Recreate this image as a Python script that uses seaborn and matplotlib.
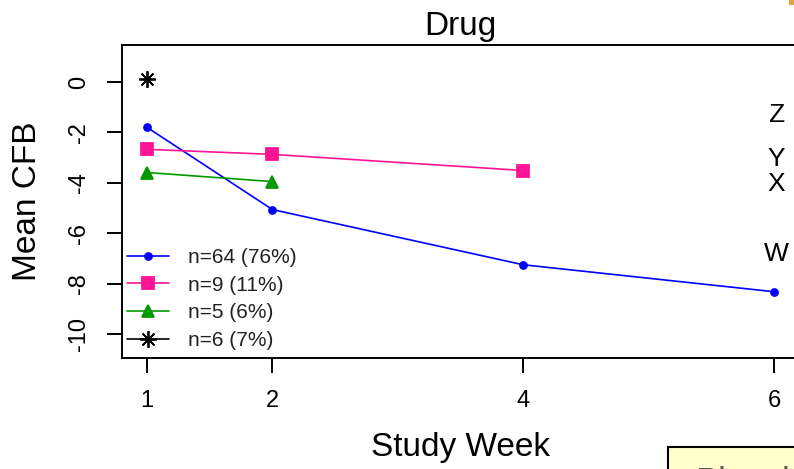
import matplotlib
matplotlib.use("Agg")
import matplotlib.pyplot as plt
from matplotlib.patches import Rectangle
import seaborn as sns
import pandas as pd

# ---- data ----
groups = ["n=64 (76%)", "n=9 (11%)", "n=5 (6%)", "n=6 (7%)"]
weeks_64 = [1, 2, 4, 6]
cfb_64 = [-1.80, -5.06, -7.25, -8.32]
weeks_9 = [1, 2, 4]
cfb_9 = [-2.67, -2.87, -3.51]
weeks_5 = [1, 2]
cfb_5 = [-3.59, -3.95]
weeks_6 = [1]
cfb_6 = [0.12]

side_letters = ["Z", "Y", "X", "W"]
side_letter_y = [-1.29, -3.06, -4.05, -6.83]

x_ticks = [1, 2, 4, 6]
y_ticks = [0, -2, -4, -6, -8, -10]

colors = ["#0000FF", "#FF1493", "#009A00", "#000000"]

sns.set_theme(style="white")
plt.rcParams["font.family"] = ["Liberation Sans", "DejaVu Sans"]
plt.rcParams["text.color"] = "black"
plt.rcParams["axes.labelcolor"] = "black"

fig = plt.figure(figsize=(7.94, 4.69), dpi=100)
ax = fig.add_axes([122 / 794, 111 / 469, (799 - 122) / 794, 313 / 469])

series = [(weeks_64, cfb_64), (weeks_9, cfb_9), (weeks_5, cfb_5), (weeks_6, cfb_6)]
markers = ["o", "s", "^", (8, 2, 0)]
msizes = [5, 9, 9, 12]

handles = []
for (wk, val), g, c, m, ms in zip(series, groups, colors, markers, msizes):
    df = pd.DataFrame({"week": wk, "cfb": val})
    sns.lineplot(data=df, x="week", y="cfb", ax=ax, color=c, marker=m,
                 markersize=ms, markeredgecolor=c, markeredgewidth=1.3,
                 linewidth=1.2, label=g, legend=False)
    handles.append(ax.lines[-1])

for lab, yv in zip(side_letters, side_letter_y):
    ax.text(6.02, yv, lab, ha="center", va="center", fontsize=19, color="black")

ax.set_xlim(0.8, 6.2)
ax.set_ylim(-10.95, 1.47)
ax.set_xticks(x_ticks)
ax.set_xticklabels([str(t) for t in x_ticks])
ax.set_yticks(y_ticks)
ax.set_yticklabels([str(t) for t in y_ticks], rotation=90, va="center")

for sp in ax.spines.values():
    sp.set_visible(True)
    sp.set_color("black")
    sp.set_linewidth(1.4)

ax.tick_params(axis="both", direction="out", length=11, width=1.4,
               color="black", labelsize=17, labelcolor="black")
ax.tick_params(axis="x", pad=12, bottom=True)
ax.tick_params(axis="y", pad=12, left=True)

ax.set_title("Drug", fontsize=24, y=(358 - 35) / 313, pad=0, va="baseline",
             color="black")
ax.set_xlabel("Study Week", fontsize=24, va="center", color="black")
ax.xaxis.set_label_coords(0.5, (358 - 447) / 313)
ax.set_ylabel("Mean CFB", fontsize=24, va="center", color="black")
ax.yaxis.set_label_coords((28 - 122) / 677, 0.5)

leg = ax.legend(handles=handles, labels=groups, loc="lower left",
                bbox_to_anchor=(5 / 677, 0.025), borderaxespad=0, borderpad=0,
                frameon=False, fontsize=15, handlelength=2.0,
                handletextpad=0.95, labelspacing=0.42)
for t in leg.get_texts():
    t.set_color("#222222")

# pale yellow box partially visible at bottom right
fig.patches.append(Rectangle((668 / 794, -0.05), 0.2, (469 - 447) / 469 + 0.05,
                             transform=fig.transFigure, facecolor="#FFFFCC",
                             edgecolor="black", linewidth=1.5, zorder=5))
fig.text(695 / 794, (469 - 466) / 469, "Placebo", fontsize=25, color="#555555",
         ha="left", va="top", zorder=6)
# small orange mark at top right corner
fig.patches.append(Rectangle((789 / 794, 1 - 5 / 469), 0.02, 0.02,
                             transform=fig.transFigure, facecolor="#E8A040",
                             edgecolor="none", zorder=5))

fig.savefig("out.png", dpi=100)
